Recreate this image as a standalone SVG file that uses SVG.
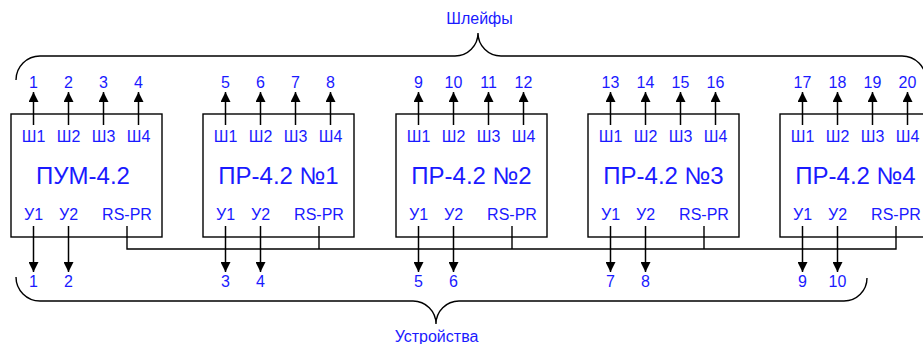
<svg xmlns="http://www.w3.org/2000/svg" width="923" height="344" viewBox="0 0 923 344">
<defs>
<style>
.box{fill:none;stroke:#000;stroke-width:1.4}
.ln{fill:none;stroke:#000;stroke-width:1.4}
.ar{fill:none;stroke:#000;stroke-width:1.5;marker-end:url(#ah)}
.t{font-family:"Liberation Sans",Arial,sans-serif;font-size:16px;fill:#1a1aff;text-anchor:middle}
.big{font-family:"Liberation Sans",Arial,sans-serif;font-size:24px;fill:#1a1aff;text-anchor:middle}
</style>
<marker id="ah" viewBox="0 0 10 10" refX="10" refY="5" markerWidth="10" markerHeight="10" markerUnits="userSpaceOnUse" orient="auto">
<path d="M0,0 L10,5 L0,10 z" fill="#000"/>
</marker>
</defs>
<rect width="923" height="344" fill="#fff"/>

<g id="braces">
<path class="ln" d="M16,80 A24,24 0 0 1 40,56 L455,56 A23,23 0 0 0 478,33 A23,23 0 0 0 501,56 L902,56 A24,24 0 0 1 926,80"/>
<text class="t" x="479.5" y="24">Шлейфы</text>
<path class="ln" d="M16,277 A24,24 0 0 0 40,301 L413,301 A23,23 0 0 1 436,324 A23,23 0 0 1 459,301 L844,301 A23,23 0 0 0 867,278"/>
<text class="t" x="436.5" y="342">Устройства</text>
</g>

<g id="connectors">
<path class="ln" d="M127,226 V249 H896 V226 M319,226 V249 M512,226 V249 M704,226 V249"/>
<path class="ar" d="M33.5,125 V92"/><path class="ar" d="M68.5,125 V92"/><path class="ar" d="M103.5,125 V92"/><path class="ar" d="M138.5,125 V92"/>
<path class="ar" d="M225.5,125 V92"/><path class="ar" d="M260.5,125 V92"/><path class="ar" d="M295.5,125 V92"/><path class="ar" d="M330.5,125 V92"/>
<path class="ar" d="M418.5,125 V92"/><path class="ar" d="M453.5,125 V92"/><path class="ar" d="M488.5,125 V92"/><path class="ar" d="M523.5,125 V92"/>
<path class="ar" d="M610.5,125 V92"/><path class="ar" d="M645.5,125 V92"/><path class="ar" d="M680.5,125 V92"/><path class="ar" d="M715.5,125 V92"/>
<path class="ar" d="M802.5,125 V92"/><path class="ar" d="M837.5,125 V92"/><path class="ar" d="M872.5,125 V92"/><path class="ar" d="M907.5,125 V92"/>
<path class="ar" d="M33.5,226 V272"/><path class="ar" d="M68.5,226 V272"/>
<path class="ar" d="M225.5,226 V272"/><path class="ar" d="M260.5,226 V272"/>
<path class="ar" d="M418.5,226 V272"/><path class="ar" d="M453.5,226 V272"/>
<path class="ar" d="M610.5,226 V272"/><path class="ar" d="M645.5,226 V272"/>
<path class="ar" d="M802.5,226 V272"/><path class="ar" d="M837.5,226 V272"/>
<text class="t" x="33.5" y="88">1</text><text class="t" x="68.5" y="88">2</text><text class="t" x="103.5" y="88">3</text><text class="t" x="138.5" y="88">4</text>
<text class="t" x="225.5" y="88">5</text><text class="t" x="260.5" y="88">6</text><text class="t" x="295.5" y="88">7</text><text class="t" x="330.5" y="88">8</text>
<text class="t" x="418.5" y="88">9</text><text class="t" x="453.5" y="88">10</text><text class="t" x="488.5" y="88">11</text><text class="t" x="523.5" y="88">12</text>
<text class="t" x="610.5" y="88">13</text><text class="t" x="645.5" y="88">14</text><text class="t" x="680.5" y="88">15</text><text class="t" x="715.5" y="88">16</text>
<text class="t" x="802.5" y="88">17</text><text class="t" x="837.5" y="88">18</text><text class="t" x="872.5" y="88">19</text><text class="t" x="907.5" y="88">20</text>
<text class="t" x="33.5" y="287">1</text><text class="t" x="68.5" y="287">2</text>
<text class="t" x="225.5" y="287">3</text><text class="t" x="260.5" y="287">4</text>
<text class="t" x="418.5" y="287">5</text><text class="t" x="453.5" y="287">6</text>
<text class="t" x="610.5" y="287">7</text><text class="t" x="645.5" y="287">8</text>
<text class="t" x="802.5" y="287">9</text><text class="t" x="837.5" y="287">10</text>
</g>

<g id="pum">
<rect class="box" x="11" y="114" width="151" height="123"/>
<text class="t" x="33.5" y="142">Ш1</text><text class="t" x="68.5" y="142">Ш2</text><text class="t" x="103.5" y="142">Ш3</text><text class="t" x="138.5" y="142">Ш4</text>
<text class="big" x="83" y="184">ПУМ-4.2</text>
<text class="t" x="33.5" y="220">У1</text><text class="t" x="68.5" y="220">У2</text><text class="t" x="127" y="220">RS-PR</text>
</g>
<g id="pr1">
<rect class="box" x="203" y="114" width="151" height="123"/>
<text class="t" x="225.5" y="142">Ш1</text><text class="t" x="260.5" y="142">Ш2</text><text class="t" x="295.5" y="142">Ш3</text><text class="t" x="330.5" y="142">Ш4</text>
<text class="big" x="278.5" y="184">ПР-4.2 №1</text>
<text class="t" x="225.5" y="220">У1</text><text class="t" x="260.5" y="220">У2</text><text class="t" x="319" y="220">RS-PR</text>
</g>
<g id="pr2">
<rect class="box" x="396" y="114" width="151" height="123"/>
<text class="t" x="418.5" y="142">Ш1</text><text class="t" x="453.5" y="142">Ш2</text><text class="t" x="488.5" y="142">Ш3</text><text class="t" x="523.5" y="142">Ш4</text>
<text class="big" x="471.5" y="184">ПР-4.2 №2</text>
<text class="t" x="418.5" y="220">У1</text><text class="t" x="453.5" y="220">У2</text><text class="t" x="512" y="220">RS-PR</text>
</g>
<g id="pr3">
<rect class="box" x="588" y="114" width="151" height="123"/>
<text class="t" x="610.5" y="142">Ш1</text><text class="t" x="645.5" y="142">Ш2</text><text class="t" x="680.5" y="142">Ш3</text><text class="t" x="715.5" y="142">Ш4</text>
<text class="big" x="663.5" y="184">ПР-4.2 №3</text>
<text class="t" x="610.5" y="220">У1</text><text class="t" x="645.5" y="220">У2</text><text class="t" x="704" y="220">RS-PR</text>
</g>
<g id="pr4">
<rect class="box" x="780" y="114" width="151" height="123"/>
<text class="t" x="802.5" y="142">Ш1</text><text class="t" x="837.5" y="142">Ш2</text><text class="t" x="872.5" y="142">Ш3</text><text class="t" x="907.5" y="142">Ш4</text>
<text class="big" x="855.5" y="184">ПР-4.2 №4</text>
<text class="t" x="802.5" y="220">У1</text><text class="t" x="837.5" y="220">У2</text><text class="t" x="896" y="220">RS-PR</text>
</g>
</svg>
